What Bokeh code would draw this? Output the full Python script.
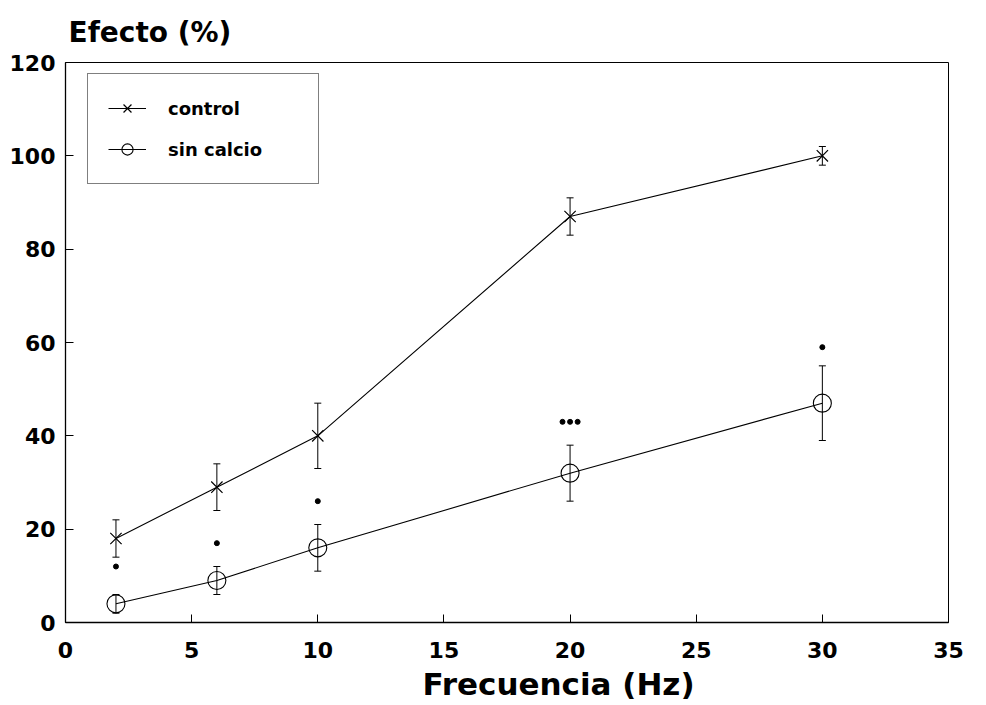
from bokeh.plotting import figure
from bokeh.models import (ColumnDataSource, Whisker, TeeHead, Legend, LegendItem,
                          Title, FixedTicker, Range1d)
from bokeh.embed import file_html
from bokeh.resources import INLINE

# ---- data ----
freq = [2, 6, 10, 20, 30]
control = [18, 29, 40, 87, 100]
control_err = [4, 5, 7, 4, 2]
sin_calcio = [4, 9, 16, 32, 47]
sin_calcio_err = [2, 3, 5, 6, 8]
sig_x = [2, 6, 10, 19.7, 20.0, 20.3, 30]
sig_y = [12, 17, 26, 43, 43, 43, 59]
x_ticks = [0, 5, 10, 15, 20, 25, 30, 35]
y_ticks = [0, 20, 40, 60, 80, 100, 120]

FONT = "DejaVu Sans"

src_c = ColumnDataSource(dict(
    x=freq, y=control,
    upper=[v + e for v, e in zip(control, control_err)],
    lower=[v - e for v, e in zip(control, control_err)]))
src_s = ColumnDataSource(dict(
    x=freq, y=sin_calcio,
    upper=[v + e for v, e in zip(sin_calcio, sin_calcio_err)],
    lower=[v - e for v, e in zip(sin_calcio, sin_calcio_err)]))

p = figure(width=978, height=704, x_range=Range1d(0, 35), y_range=Range1d(0, 120),
           output_backend="svg", toolbar_location=None,
           min_border_left=65, min_border_right=30, min_border_top=60, min_border_bottom=20)

p.grid.visible = False
p.outline_line_color = "black"
p.outline_line_width = 1
p.background_fill_color = "white"
p.border_fill_color = "white"

for ax in (p.xaxis[0], p.yaxis[0]):
    ax.axis_line_color = "black"
    ax.axis_line_width = 1.3
    ax.major_tick_in = 8
    ax.major_tick_out = 0
    ax.minor_tick_line_color = None
    ax.major_tick_line_color = "black"
    ax.major_label_text_font = FONT
    ax.major_label_text_font_style = "bold"
    ax.major_label_text_font_size = "22px"
    ax.major_label_text_color = "black"

p.xaxis[0].ticker = FixedTicker(ticks=x_ticks)
p.yaxis[0].ticker = FixedTicker(ticks=y_ticks)
p.xaxis[0].major_label_standoff = 19
p.yaxis[0].major_label_standoff = 10

# y-axis title at top-left
p.title.text = "Efecto (%)"
p.title.text_font = FONT
p.title.text_font_style = "bold"
p.title.text_font_size = "28px"
p.title.text_color = "black"
p.title.align = "left"
p.title.vertical_align = "bottom"
p.title.offset = 3
p.title.standoff = 27

# x-axis title
xt = Title(text="Frecuencia (Hz)", align="left", offset=357,
           text_font=FONT, text_font_style="bold", text_font_size="31px",
           text_color="black", standoff=6)
p.add_layout(xt, "below")

# lines
l_c = p.line("x", "y", source=src_c, line_color="black", line_width=1.1)
l_s = p.line("x", "y", source=src_s, line_color="black", line_width=1.1)

# error bars
for src in (src_c, src_s):
    w = Whisker(source=src, base="x", upper="upper", lower="lower", dimension="height",
                line_color="black", line_width=1,
                upper_head=TeeHead(size=7, line_color="black", line_width=1),
                lower_head=TeeHead(size=7, line_color="black", line_width=1))
    p.add_layout(w)

# markers
m_c = p.scatter("x", "y", source=src_c, marker="x", size=16,
                line_color="black", line_width=1.2)
m_s = p.scatter("x", "y", source=src_s, marker="circle", size=18,
                line_color="black", line_width=1.1, fill_color=None)

# significance marks
p.scatter(sig_x, sig_y, marker="circle", size=5, fill_color="black", line_color="black")

legend = Legend(items=[LegendItem(label="control", renderers=[l_c, m_c]),
                       LegendItem(label="sin calcio", renderers=[l_s, m_s])],
                location=(22, 438), padding=20, spacing=13,
                glyph_width=38, glyph_height=28, label_height=28,
                label_standoff=22, label_width=130,
                label_text_font=FONT, label_text_font_style="bold",
                label_text_font_size="18px", label_text_color="black",
                border_line_color="black", border_line_width=1,
                background_fill_color="white", background_fill_alpha=1)
p.add_layout(legend)

open("out.html", "w").write(file_html(p, INLINE))
